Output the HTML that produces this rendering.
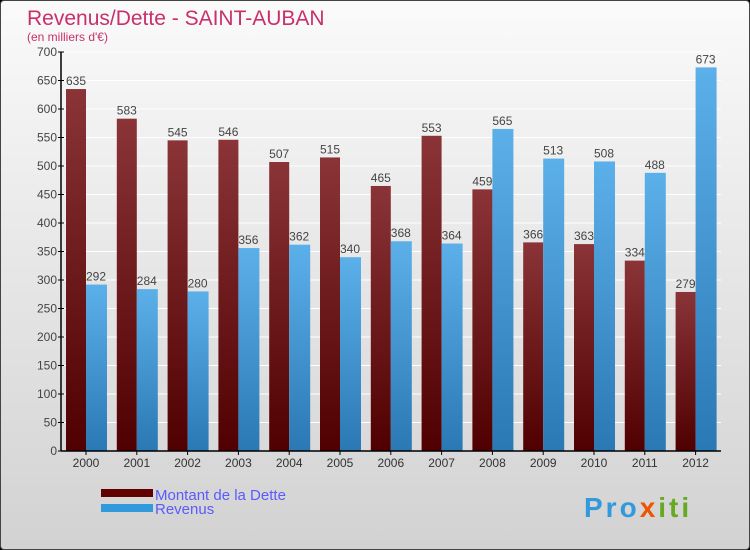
<!DOCTYPE html>
<html><head><meta charset="utf-8"><style>
body{margin:0;background:#000}
#wrap{width:748px;height:548px;border:1px solid #444;border-radius:4px;overflow:hidden;background:linear-gradient(#fafafa,#d2d2d2)}
text{font-family:"Liberation Sans",sans-serif}
</style></head><body>
<div id="wrap">
<svg id="c" width="748" height="548">
<defs>
<linearGradient id="gd" x1="0" y1="0" x2="0" y2="1"><stop offset="0" stop-color="#8a3438"/><stop offset="1" stop-color="#500000"/></linearGradient>
<linearGradient id="gr" x1="0" y1="0" x2="0" y2="1"><stop offset="0" stop-color="#5cb0ea"/><stop offset="1" stop-color="#2a78b4"/></linearGradient>
</defs>
<text x="26" y="24" font-size="21" fill="#c8306a">Revenus/Dette - SAINT-AUBAN</text>
<text x="26" y="40" font-size="12" fill="#c8306a">(en milliers d'€)</text>
<g id="g"></g>
<rect x="100" y="488" width="52" height="8" fill="#600000"/>
<text x="154" y="499" font-size="15" fill="#5a5aff">Montant de la Dette</text>
<rect x="100" y="503" width="52" height="8" fill="#3399dd"/>
<text x="154" y="513" font-size="15" fill="#5a5aff">Revenus</text>
<text x="583" y="516" font-size="28" font-weight="bold" letter-spacing="3" fill="#3399dd">Pro<tspan fill="#ee5500">x</tspan><tspan fill="#66aa22">iti</tspan></text>
</svg></div>
<script>
const years=["2000","2001","2002","2003","2004","2005","2006","2007","2008","2009","2010","2011","2012"];
const dette=[635,583,545,546,507,515,465,553,459,366,363,334,279];
const revenus=[292,284,280,356,362,340,368,364,565,513,508,488,673];
const yTicks=[0,50,100,150,200,250,300,350,400,450,500,550,600,650,700];
const NS="http://www.w3.org/2000/svg";
const g=document.getElementById('g');
const x0=60,y0=450,yTop=51,x1=720,step=50.8;
const y=v=>y0-(y0-yTop)*v/700;
const cx=i=>85+i*step;
function mk(t,a){const e=document.createElementNS(NS,t);for(const k in a)e.setAttribute(k,a[k]);g.appendChild(e);return e;}
yTicks.forEach(v=>{
 const l=mk('line',{x1:x0,x2:x1,y1:y(v),y2:y(v),stroke:'#ffffff','stroke-width':1});
 
 
 const tk=mk('line',{x1:x0-3,x2:x0+3,y1:y(v),y2:y(v),stroke:'#000'});
 
 
 const t=mk('text',{x:x0-4,y:y(v)+4,'font-size':12,'text-anchor':'end',fill:'#444'});
 t.textContent=v;
 
 
});
years.forEach((yr,i)=>{
 const c=cx(i);
 const b1=mk('rect',{x:c-20,y:y(dette[i]),width:20,height:y0-y(dette[i]),fill:'url(#gd)'});
 
 
 const b2=mk('rect',{x:c,y:y(revenus[i]),width:21,height:y0-y(revenus[i]),fill:'url(#gr)'});
 
 
 const t1=mk('text',{x:c-10,y:y(dette[i])-4,'font-size':12,'text-anchor':'middle',fill:'#444'});
 t1.textContent=dette[i];
 
 
 const t2=mk('text',{x:c+10,y:y(revenus[i])-4,'font-size':12,'text-anchor':'middle',fill:'#444'});
 t2.textContent=revenus[i];
 
 
 const tx=mk('text',{x:c,y:466,'font-size':12,'text-anchor':'middle',fill:'#333'});
 tx.textContent=yr;
 
 
 const tk=mk('line',{x1:c,x2:c,y1:y0,y2:y0+4,stroke:'#000'});
 
 
});
const ax=mk('line',{x1:x0,x2:x0,y1:yTop,y2:y0,stroke:'#000','stroke-width':1.5});


const xa=mk('line',{x1:x0,x2:x1,y1:y0,y2:y0,stroke:'#000','stroke-width':1.5});


</script>
</body></html>
